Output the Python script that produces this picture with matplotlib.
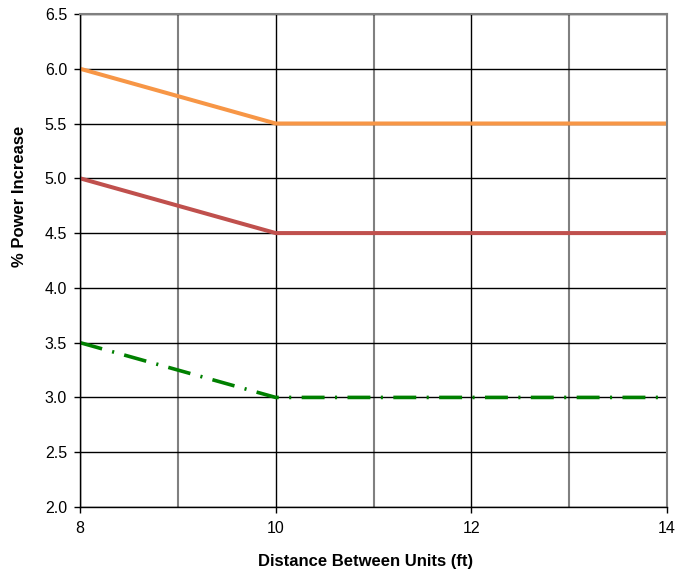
import matplotlib
matplotlib.use("Agg")
import matplotlib.pyplot as plt
from matplotlib.ticker import MultipleLocator, FormatStrFormatter

plt.rcParams['font.family'] = ['Liberation Sans', 'DejaVu Sans']
plt.rcParams['lines.scale_dashes'] = False

distance = [8, 10, 12, 14]
series_top = [6.0, 5.5, 5.5, 5.5]
series_mid = [5.0, 4.5, 4.5, 4.5]
series_low = [3.5, 3.0, 3.0, 3.0]

fig = plt.figure(figsize=(6.91, 5.76), dpi=100)
ax = fig.add_axes([0.1158, 0.1198, 0.8495, 0.856])

ax.set_xlim(8, 14)
ax.set_ylim(2.0, 6.5)
ax.xaxis.set_major_locator(MultipleLocator(2))
ax.xaxis.set_minor_locator(MultipleLocator(1))
ax.yaxis.set_major_locator(MultipleLocator(0.5))
ax.yaxis.set_major_formatter(FormatStrFormatter('%.1f'))

ax.grid(True, which='major', color='black', linewidth=1.0)
ax.grid(True, which='minor', axis='x', color='#808080', linewidth=1.5)
ax.set_axisbelow(True)

ax.plot(distance, series_top, color='#F79646', linewidth=2.9, solid_capstyle='butt')
ax.plot(distance, series_mid, color='#C0504D', linewidth=2.9, solid_capstyle='butt')
ax.plot(distance, series_low, color='#008000', linewidth=2.6,
        dashes=[16.5, 7.5, 1.5, 7.5], dash_capstyle='butt')

for s in ax.spines.values():
    s.set_linewidth(1.0)
    s.set_color('black')
for side in ('right', 'top'):
    ax.spines[side].set_color('#808080')
    ax.spines[side].set_linewidth(1.5)

ax.tick_params(axis='both', which='major', direction='out', length=4.3, width=1, pad=5)
ax.tick_params(axis='y', labelsize=11.5)
ax.tick_params(axis='x', labelsize=11.5, pad=6)
ax.tick_params(axis='x', which='minor', length=0)

ax.set_xlabel('Distance Between Units (ft)', fontsize=12, fontweight='bold')
ax.set_ylabel('% Power Increase', fontsize=12, fontweight='bold')
ax.xaxis.set_label_coords(0.486, -0.095)
ax.yaxis.set_label_coords(-0.090, 0.629)

fig.savefig('out.png', dpi=100)
